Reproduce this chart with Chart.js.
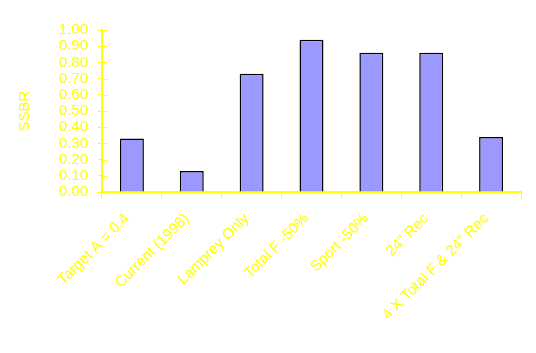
<!DOCTYPE html>
<html>
<head>
<meta charset="utf-8">
<script src="https://cdn.jsdelivr.net/npm/chart.js@4/dist/chart.umd.min.js"></script>
<style>
	html, body { margin: 0; padding: 0; background: #fff; }
	#wrap { width: 536px; height: 353px; }
</style>
</head>
<body>
<div id="wrap"><canvas id="chart"></canvas></div>
<script>
// data
const categories = ['Target A = 0.4', 'Current (1998)', 'Lamprey Only', 'Total F -50%', 'Sport -50%', '24" Rec', '4 X Total F & 24" Rec'];
const ssbrValues = [0.33, 0.13, 0.73, 0.94, 0.86, 0.86, 0.34];
const yTicks = [0, 0.1, 0.2, 0.3, 0.4, 0.5, 0.6, 0.7, 0.8, 0.9, 1.0];

const yellow = '#FFFF00';
const font = { family: 'Liberation Sans, Arial, sans-serif', size: 15 };

// y tick marks cross the axis line
const crossTicks = {
	id: 'crossTicks',
	afterDraw(chart) {
		const ctx = chart.ctx;
		const y = chart.scales.y;
		const x0 = chart.chartArea.left;
		ctx.save();
		ctx.strokeStyle = yellow;
		ctx.lineWidth = 1;
		yTicks.forEach(v => {
			const py = Math.round(y.getPixelForValue(v)) + 0.5;
			ctx.beginPath();
			ctx.moveTo(x0, py);
			ctx.lineTo(x0 + 5, py);
			ctx.stroke();
		});
		ctx.restore();
	}
};

new Chart(document.getElementById('chart'), {
	type: 'bar',
	data: {
		labels: categories,
		datasets: [{
			data: ssbrValues,
			backgroundColor: '#9999FF',
			borderColor: '#000000',
			borderWidth: 1.5,
			barPercentage: 0.4,
			categoryPercentage: 1
		}]
	},
	options: {
		responsive: true,
		maintainAspectRatio: false,
		animation: false,
		layout: { padding: { top: 30, right: 15, left: 0, bottom: 0 } },
		plugins: { legend: { display: false }, tooltip: { enabled: false } },
		scales: {
			x: {
				grid: { drawOnChartArea: false, color: yellow, tickLength: 6, offset: true },
				border: { color: yellow, width: 2 },
				ticks: { color: yellow, font: font, minRotation: 45, maxRotation: 45, padding: 12, labelOffset: -5, autoSkip: false },
				afterFit: s => { s.height = 161; }
			},
			y: {
				min: 0,
				max: 1,
				afterBuildTicks: s => { s.ticks = yTicks.map(v => ({ value: v })); },
				grid: { drawOnChartArea: false, color: yellow, tickLength: 4 },
				border: { color: yellow, width: 2 },
				ticks: {
					color: yellow,
					font: font,
					padding: 10,
					autoSkip: false,
					callback: v => Number(v).toFixed(2)
				},
				title: { display: true, text: 'SSBR', color: yellow, font: font, padding: { top: 16, bottom: 0 } },
				afterFit: s => { s.width = 102; }
			}
		}
	},
	plugins: [crossTicks]
});
</script>
</body>
</html>
